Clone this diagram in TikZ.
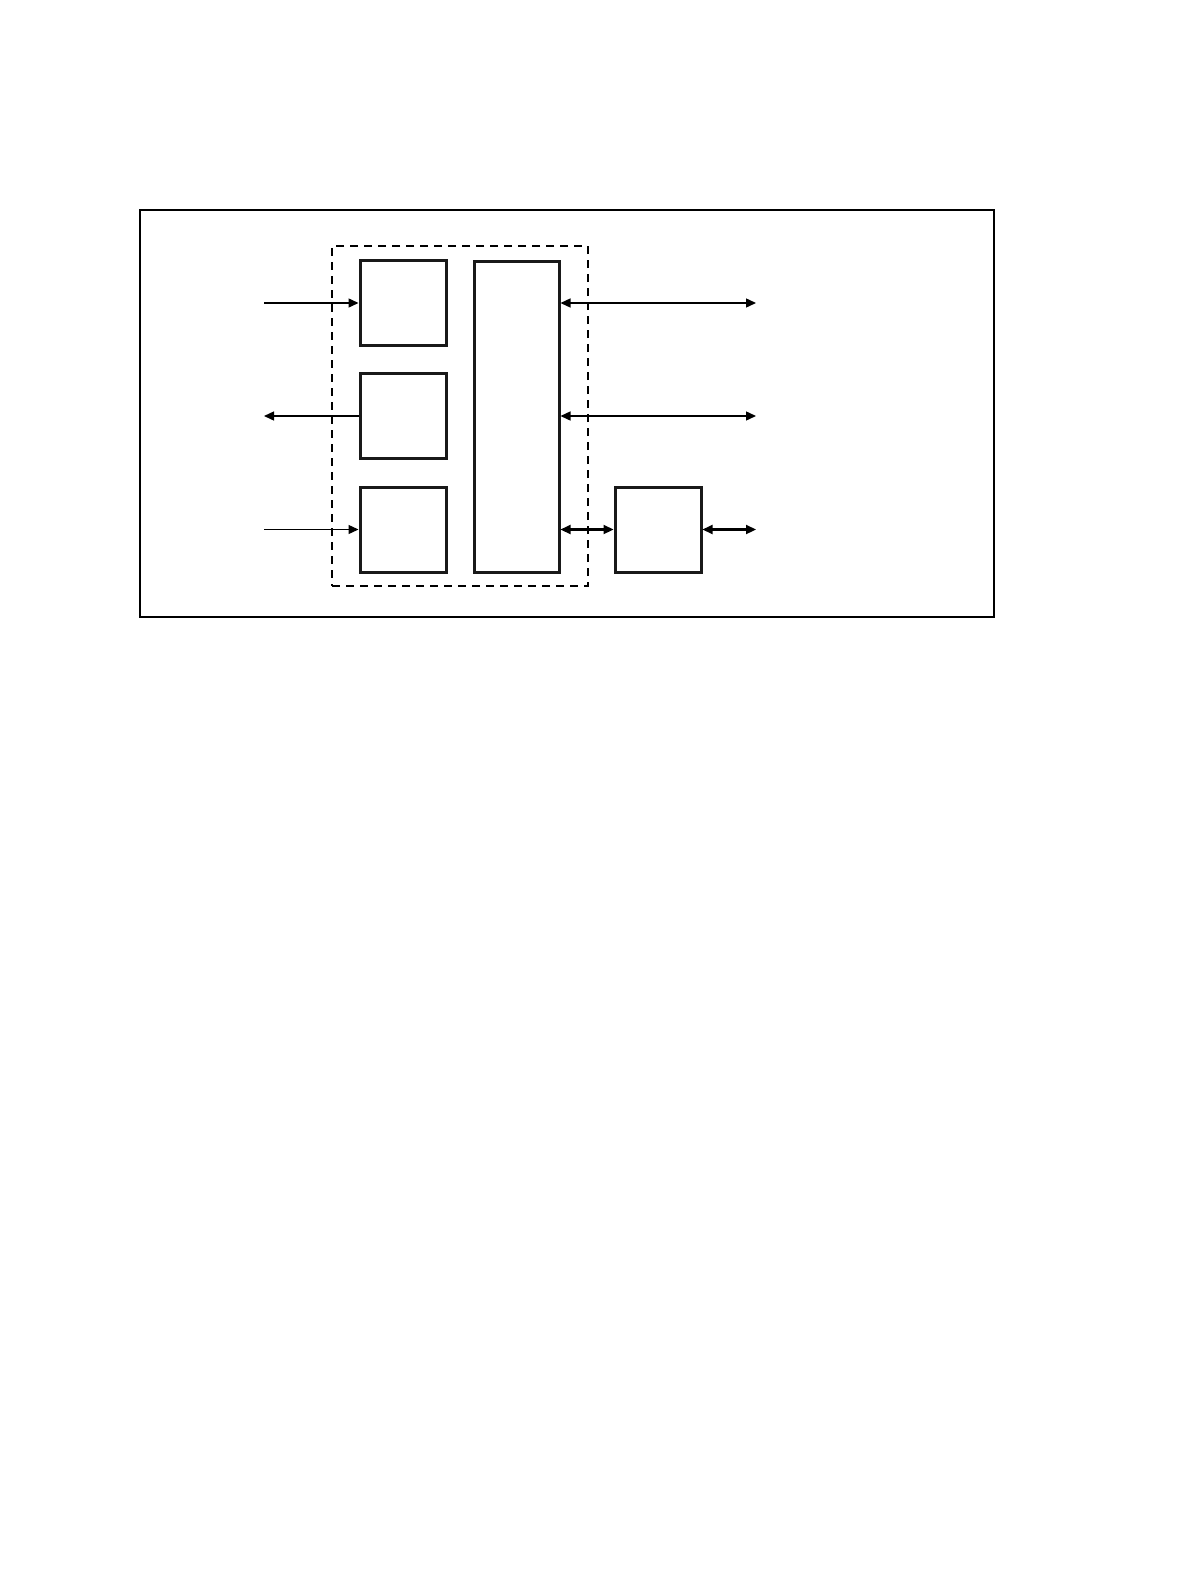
\documentclass[tikz,border=0pt]{standalone}
\usetikzlibrary{arrows.meta}
\begin{document}
\begin{tikzpicture}[x=0.5pt,y=-0.5pt,
  blk/.style={draw=black!90,line width=1.5pt,fill=white,inner sep=0pt,minimum width=43pt,minimum height=42.5pt},
  thinarr/.style={line width=0.7pt,-{Triangle[length=5pt,width=4.5pt]}},
  dblarr/.style={line width=0.7pt,{Triangle[length=5pt,width=4.5pt]}-{Triangle[length=5pt,width=4.5pt]}},
  thickdbl/.style={line width=1.1pt,{Triangle[length=5pt,width=4.5pt]}-{Triangle[length=5pt,width=4.5pt]}}]
\useasboundingbox (0,0) rectangle (1190,1584);
\node[draw,line width=1pt,inner sep=0pt,minimum width=427pt,minimum height=203.5pt] (outer) at (567,413.5) {};
\node[draw,dashed,line width=0.7pt,inner sep=0pt,minimum width=128pt,minimum height=170pt,dash pattern=on 4pt off 3pt] (grp) at (460,416) {};
\node[blk] (A) at (403,303) {};
\node[blk] (B) at (403,416) {};
\node[blk] (C) at (403,529.5) {};
\node[blk,minimum height=155.5pt,minimum width=42.5pt] (D) at (516.5,416.5) {};
\node[blk] (E) at (658,529.5) {};
\coordinate (in1) at (264,303);
\coordinate (out1) at (264,416);
\coordinate (in2) at (264,529.5);
\coordinate (r1) at (756,303);
\coordinate (r2) at (756,416);
\coordinate (r3) at (756,529.5);
\draw[thinarr] (in1) -- (A.west);
\draw[thinarr] (B.west) -- (out1);
\draw[thinarr] (in2) -- (C.west);
\draw[dblarr] (D.east |- r1) -- (r1);
\draw[dblarr] (D.east |- r2) -- (r2);
\draw[thickdbl] (D.east |- E.west) -- (E.west);
\draw[thickdbl] (E.east) -- (r3);
\end{tikzpicture}
\end{document}
